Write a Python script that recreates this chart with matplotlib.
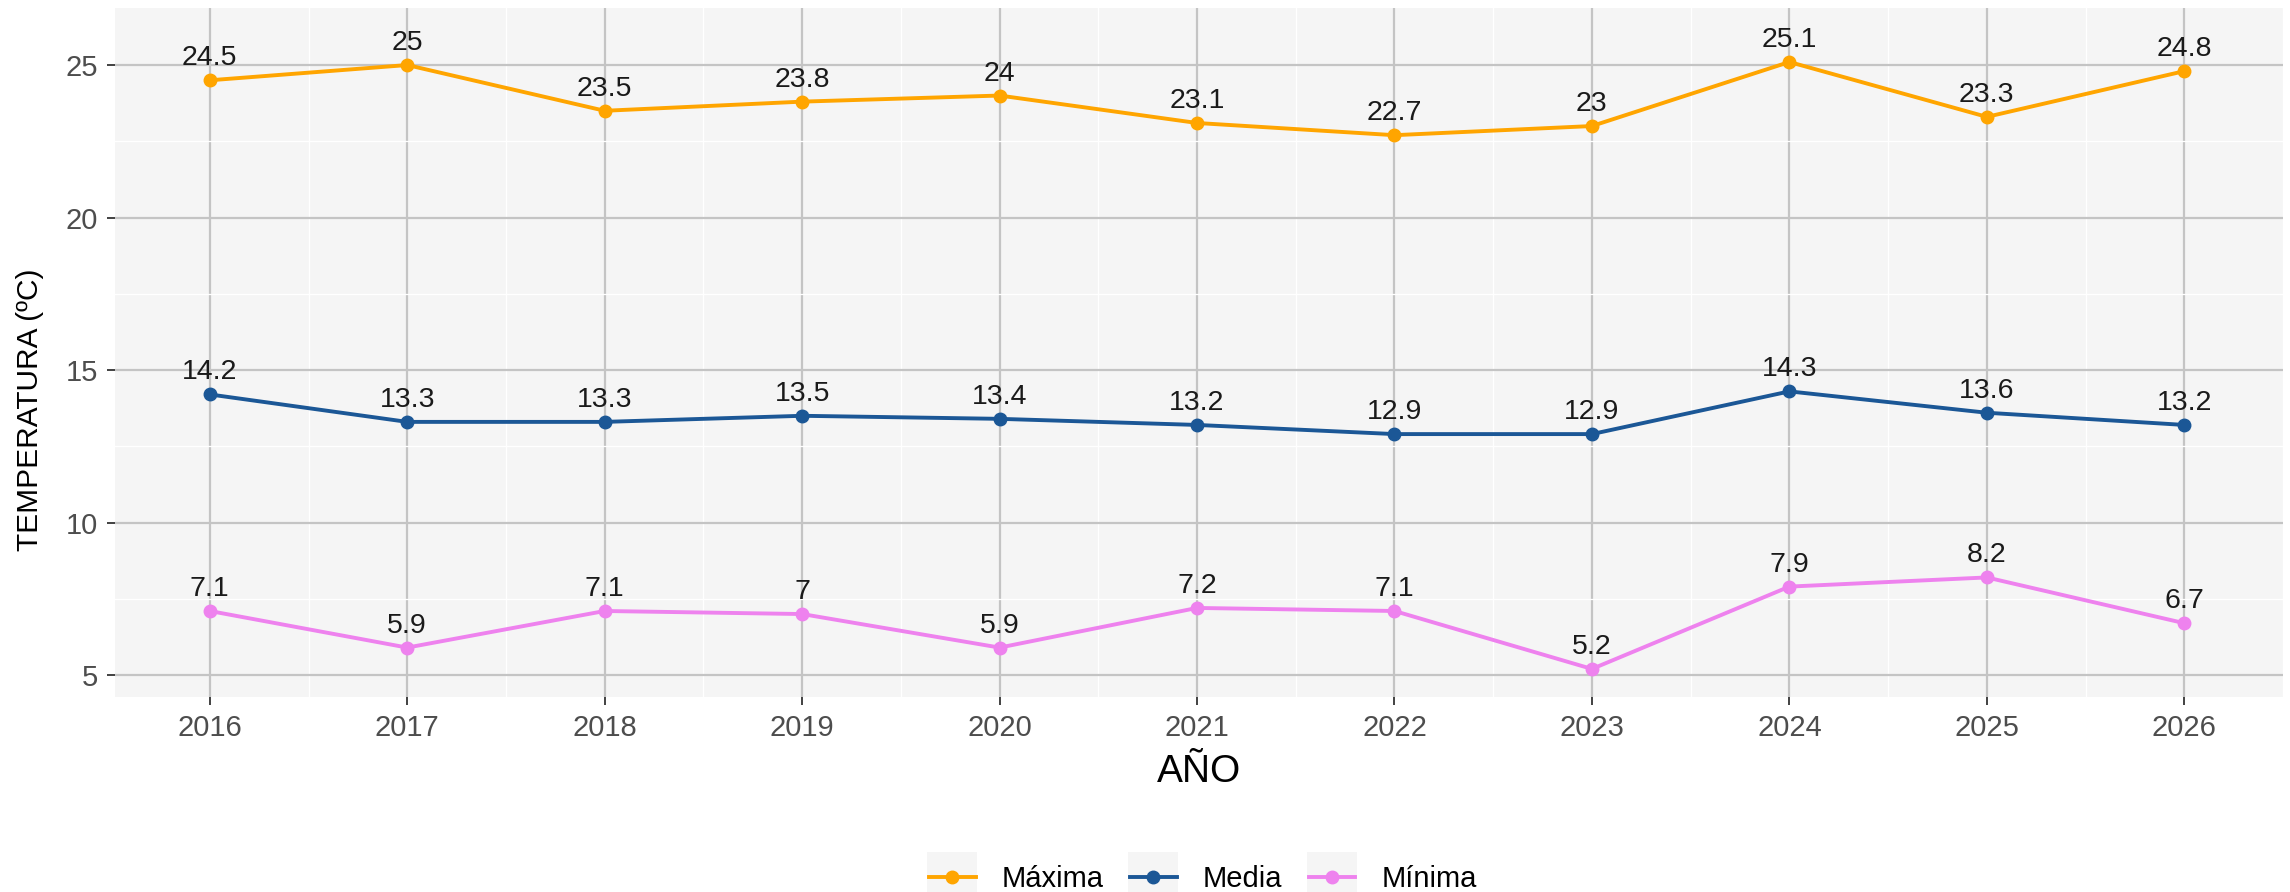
import matplotlib
matplotlib.use("Agg")
import matplotlib.pyplot as plt
from matplotlib.patches import Rectangle
from matplotlib.ticker import MultipleLocator

# ------------- DATA -------------
years = [2016, 2017, 2018, 2019, 2020, 2021, 2022, 2023, 2024, 2025, 2026]
maxima = [24.5, 25, 23.5, 23.8, 24, 23.1, 22.7, 23, 25.1, 23.3, 24.8]
media = [14.2, 13.3, 13.3, 13.5, 13.4, 13.2, 12.9, 12.9, 14.3, 13.6, 13.2]
minima = [7.1, 5.9, 7.1, 7, 5.9, 7.2, 7.1, 5.2, 7.9, 8.2, 6.7]
series_names = ["Máxima", "Media", "Mínima"]
# --------------------------------

COLORS = ["#FFA500", "#1B5796", "#EE82EE"]
W, H = 2290, 892

plt.rcParams["font.family"] = ["Liberation Sans", "DejaVu Sans"]

fig = plt.figure(figsize=(W / 100, H / 100), dpi=100)
ax = fig.add_axes([115 / W, 1 - 697 / H, (2283 - 115) / W, (697 - 8) / H])
ax.set_facecolor("#F5F5F5")

for name, vals, col in zip(series_names, [maxima, media, minima], COLORS):
    ax.plot(years, vals, color=col, lw=2.8, marker="o", ms=9, label=name, zorder=3)
    for x, y in zip(years, vals):
        ax.annotate(f"{y:g}", (x, y), xytext=(0, 6.5), textcoords="offset points",
                    ha="center", va="bottom", fontsize=20.5, color="#1A1A1A", zorder=4)

ax.set_xlim(2015.52, 2026.5)
ax.set_ylim(4.28, 26.87)
ax.set_xticks(years)
ax.yaxis.set_major_locator(MultipleLocator(5))
ax.xaxis.set_minor_locator(MultipleLocator(0.5))
ax.yaxis.set_minor_locator(MultipleLocator(2.5))

ax.grid(which="major", color="#C4C4C4", lw=1.6, zorder=1)
ax.grid(which="minor", color="white", lw=0.9, zorder=0.5)
ax.set_axisbelow(True)
for s in ax.spines.values():
    s.set_visible(False)

ax.tick_params(which="major", length=6, width=1.3, color="#333333",
               labelsize=21, labelcolor="#4D4D4D", pad=6)
ax.tick_params(which="minor", length=0)

# axis titles placed where the reference has them
fig.text(1199 / W, 1 - 772 / H, "AÑO", fontsize=28, color="black",
         ha="center", va="center")
fig.text(30 / W, 1 - 410 / H, "TEMPERATURA (ºC)", fontsize=21.5, color="black",
         rotation=90, ha="center", va="center")

handles, labels = ax.get_legend_handles_labels()
leg = fig.legend(handles, labels, loc="center", bbox_to_anchor=(1203 / W, 1 - 879 / H),
                 ncol=3, frameon=False, fontsize=21, handlelength=1.6,
                 columnspacing=0.9, handletextpad=0.9)

# grey key boxes like ggplot legend keys
fig.canvas.draw()
for h in leg.legend_handles:
    bb = h.get_window_extent()
    cx = (bb.x0 + bb.x1) / 2
    cy = (bb.y0 + bb.y1) / 2
    box = Rectangle(((cx - 25) / W, (cy - 25) / H), 50 / W, 50 / H,
                    transform=fig.transFigure, facecolor="#F5F5F5",
                    edgecolor="none", zorder=0)
    fig.patches.append(box)

fig.savefig("out.png", dpi=100)
